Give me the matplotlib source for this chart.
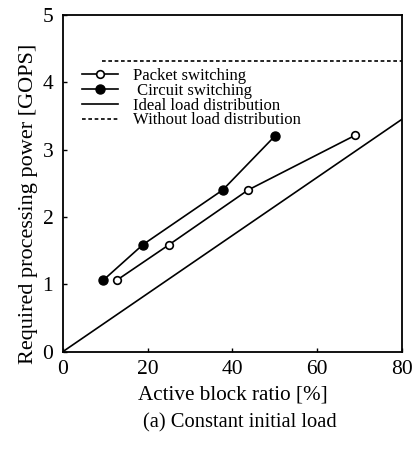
import numpy as np
import matplotlib.pyplot as plt

plt.rcParams['font.family'] = ['Liberation Serif', 'DejaVu Serif']

# data
packet_x = [12.7, 25.1, 43.7, 68.9]
packet_y = [1.06, 1.59, 2.40, 3.21]
circuit_x = [9.5, 18.9, 37.7, 50.0]
circuit_y = [1.06, 1.59, 2.40, 3.20]
ideal_x = [0, 80]
ideal_y = [0, 3.45]
without_x = [9.1, 80]
without_y = [4.32, 4.32]

fig = plt.figure(figsize=(4.16, 4.49), dpi=100)
ax = fig.add_axes([0.1514, 0.217, 0.8146, 0.7496])

ax.plot(packet_x, packet_y, 'k-', marker='o', mfc='white', mec='black',
        ms=5.5, mew=1.2, lw=1.2, label='Packet switching')
ax.plot(circuit_x, circuit_y, 'k-', marker='o', mfc='black', mec='black',
        ms=6.5, lw=1.2, label=' Circuit switching')
ax.plot(ideal_x, ideal_y, 'k-', lw=1.2, label='Ideal load distribution')
ax.plot(without_x, without_y, 'k--', lw=1.2, dashes=(2.2, 1.6),
        label='Without load distribution')

ax.set_xlim(0, 80)
ax.set_ylim(0, 5)
ax.set_xticks([0, 20, 40, 60, 80])
ax.set_yticks([0, 1, 2, 3, 4, 5])
ax.tick_params(direction='in', length=3, width=1, labelsize=15.5)
ax.tick_params(axis='x', pad=6)
ax.tick_params(axis='y', pad=7)
for s in ax.spines.values():
    s.set_linewidth(1.3)

ax.set_xlabel('Active block ratio [%]', fontsize=15.2, va='center')
ax.xaxis.set_label_coords(0.5, -0.13)
ax.set_ylabel('Required processing power [GOPS]', fontsize=16, va='center')
ax.yaxis.set_label_coords(-0.103, 0.438)

ax.legend(loc='upper left', bbox_to_anchor=(0.056, 0.843), frameon=False,
          fontsize=12, handlelength=2.15, handletextpad=0.9,
          labelspacing=-0.07, borderaxespad=0, borderpad=0)

fig.text(0.576, 0.058, '(a) Constant initial load', ha='center', va='center',
         fontsize=14.8)

plt.savefig('out.png', dpi=100)
